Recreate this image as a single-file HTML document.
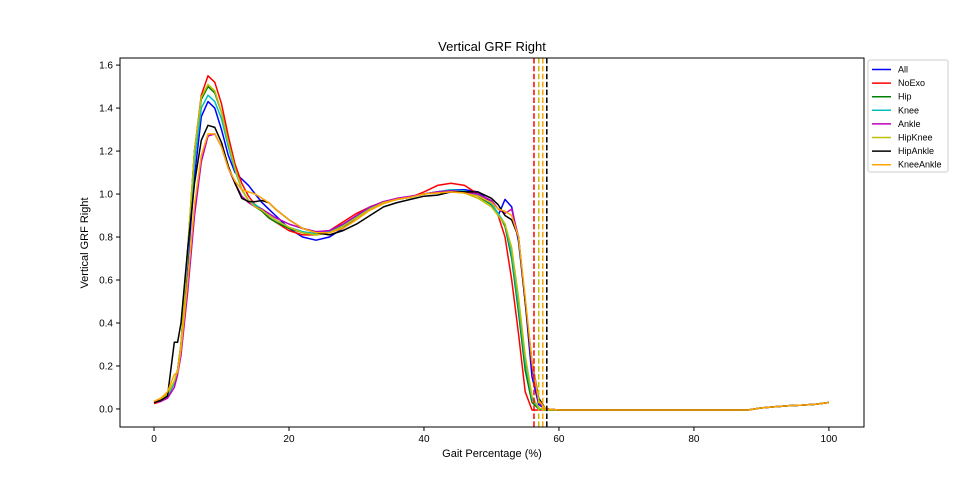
<!DOCTYPE html>
<html><head><meta charset="utf-8">
<style>
body{margin:0;background:#fff;}
svg{display:block;font-family:"Liberation Sans","DejaVu Sans",sans-serif;}
</style></head>
<body>
<svg id="chart" width="960" height="480">
<rect x="0" y="0" width="960" height="480" fill="#fff"/>
<text x="492" y="51" text-anchor="middle" font-size="13">Vertical GRF Right</text>
<text x="492" y="457" text-anchor="middle" font-size="11">Gait Percentage (%)</text>
<text x="88" y="243" text-anchor="middle" font-size="11" transform="rotate(-90 88 243)">Vertical GRF Right</text>
<g id="grid"></g>
<g id="plot"></g>
<rect x="120" y="58" width="744" height="369" fill="none" stroke="#000" stroke-width="1"/>
<g id="legend"></g>
</svg>
<script>
const xs=[0,1,2,3,3.5,4,5,6,7,8,9,10,11,12,13,14,15,16,17,18,20,22,24,26,28,30,32,34,36,38,40,42,44,46,48,50,51,52,53,54,55,56,57,58,60,80,88,90,92,94,96,98,100];
const seriesNames=["All","NoExo","Hip","Knee","Ankle","HipKnee","HipAnkle","KneeAnkle"];
const seriesColors=["#0000ff","#ff0000","#008000","#00bfbf","#bf00bf","#bfbf00","#000000","#ffa500"];
const tail=[-.005,-.005,-.005,.005,.01,.015,.018,.022,.03];
const sAll=[.03,.04,.06,.12,.18,.3,.68,1.08,1.36,1.43,1.40,1.30,1.18,1.10,1.07,1.04,1.0,.96,.93,.90,.84,.80,.785,.80,.84,.89,.93,.96,.975,.985,1.0,1.01,1.02,1.02,1.01,.96,.90,.975,.94,.78,.5,.15,.02,0].concat(tail);
const sNoExo=[.025,.035,.06,.12,.18,.3,.72,1.2,1.46,1.55,1.52,1.42,1.27,1.14,1.05,.99,.95,.92,.89,.87,.83,.81,.81,.83,.87,.91,.94,.96,.975,.985,1.01,1.04,1.05,1.04,1.0,.95,.90,.80,.60,.35,.08,-.005,-.005,-.005].concat(tail);
const sHip=[.03,.04,.06,.12,.18,.3,.75,1.2,1.44,1.50,1.47,1.38,1.24,1.12,1.02,.97,.94,.92,.89,.87,.84,.82,.81,.82,.85,.89,.93,.96,.975,.985,1.0,1.01,1.015,1.01,.99,.95,.91,.85,.70,.45,.18,.03,0,-.005].concat(tail);
const sKnee=[.03,.04,.06,.12,.18,.3,.72,1.15,1.40,1.46,1.43,1.35,1.22,1.11,1.02,.97,.95,.93,.90,.88,.845,.825,.815,.825,.855,.895,.935,.96,.975,.985,1.0,1.01,1.02,1.015,.995,.955,.91,.86,.72,.48,.22,.05,0,-.005].concat(tail);
const sAnkle=[.03,.035,.05,.10,.16,.25,.55,.9,1.15,1.27,1.28,1.22,1.12,1.05,.99,.96,.94,.93,.91,.89,.86,.84,.825,.83,.86,.90,.94,.965,.98,.99,1.0,1.01,1.015,1.01,1.0,.97,.93,.91,.93,.80,.50,.20,.03,0].concat(tail);
const sHipKnee=[.035,.045,.07,.13,.18,.3,.75,1.2,1.45,1.51,1.48,1.38,1.24,1.12,1.02,.97,.94,.925,.90,.88,.845,.82,.81,.82,.85,.89,.93,.96,.975,.985,1.0,1.005,1.01,1.005,.98,.94,.90,.86,.75,.52,.25,.06,.005,-.005].concat(tail);
const sHipAnkle=[.03,.04,.06,.31,.31,.4,.75,1.05,1.25,1.32,1.31,1.24,1.13,1.05,.98,.965,.965,.97,.96,.93,.88,.84,.82,.81,.83,.86,.90,.94,.96,.975,.99,.995,1.01,1.01,1.01,.98,.95,.90,.88,.80,.50,.22,.05,0].concat(tail);
const sKneeAnkle=[.035,.05,.08,.16,.17,.28,.6,.95,1.18,1.28,1.28,1.22,1.12,1.06,1.02,1.01,1.0,.98,.96,.93,.88,.84,.82,.82,.84,.88,.925,.955,.975,.985,1.0,1.005,1.01,1.005,.99,.96,.93,.92,.90,.80,.52,.22,.04,0].concat(tail);
const seriesValues=[sAll,sNoExo,sHip,sKnee,sAnkle,sHipKnee,sHipAnkle,sKneeAnkle];
const stanceEnd=[56.3,57.0,57.6,58.2];
const stanceColors=["#ff0000","#bfbf00","#ffa500","#000000"];
const xTicks=[0,20,40,60,80,100];
const yTicks=[0.0,0.2,0.4,0.6,0.8,1.0,1.2,1.4,1.6];

const NS="http://www.w3.org/2000/svg";
const X0=120,X1=864,Y0=58,Y1=427,XMIN=-5.04,XMAX=105.2,YMIN=-0.084,YMAX=1.633;
function sx(v){return X0+(v-XMIN)/(XMAX-XMIN)*(X1-X0);}
function sy(v){return Y1-(v-YMIN)/(YMAX-YMIN)*(Y1-Y0);}
function mk(t,a,p){const e=document.createElementNS(NS,t);for(const k in a)e.setAttribute(k,a[k]);p.appendChild(e);return e;}
const grid=document.getElementById('grid'),plot=document.getElementById('plot'),leg=document.getElementById('legend');
xTicks.forEach(t=>{
  const l=mk('line',{x1:sx(t),x2:sx(t),y1:Y1,y2:Y1+4,stroke:'#000'},grid);
  
  
  const tx=mk('text',{x:sx(t),y:Y1+15,'text-anchor':'middle','font-size':10},grid);tx.textContent=t;
  
  
});
yTicks.forEach(t=>{
  const l=mk('line',{x1:X0-4,x2:X0,y1:sy(t),y2:sy(t),stroke:'#000'},grid);
  
  
  const tx=mk('text',{x:X0-7,y:sy(t)+3.5,'text-anchor':'end','font-size':10},grid);tx.textContent=t.toFixed(1);
  
  
});
seriesValues.forEach((vals,i)=>{
  const pts=vals.map((v,j)=>sx(xs[j]).toFixed(1)+','+sy(v).toFixed(1)).join(' ');
  const pl=mk('polyline',{points:pts,fill:'none',stroke:seriesColors[i],'stroke-width':1.5,'stroke-linejoin':'round'},plot);
  
  
});
stanceEnd.forEach((v,i)=>{
  const l=mk('line',{x1:sx(v),x2:sx(v),y1:Y0,y2:Y1,stroke:stanceColors[i],'stroke-width':1.5,'stroke-dasharray':'5.5,2.4'},plot);
  
  
});
const lb=mk('rect',{x:868,y:60,width:80,height:112,fill:'#fff',stroke:'#ccc',rx:2},leg);


seriesNames.forEach((n,i)=>{
  const y=69.5+i*13.6;
  const g=mk('g',{},leg);
  
  
  mk('line',{x1:872,x2:891,y1:y,y2:y,stroke:seriesColors[i],'stroke-width':1.5},g);
  const t=mk('text',{x:898,y:y+3,'font-size':9},g);t.textContent=n;
});
</script>
</body></html>
